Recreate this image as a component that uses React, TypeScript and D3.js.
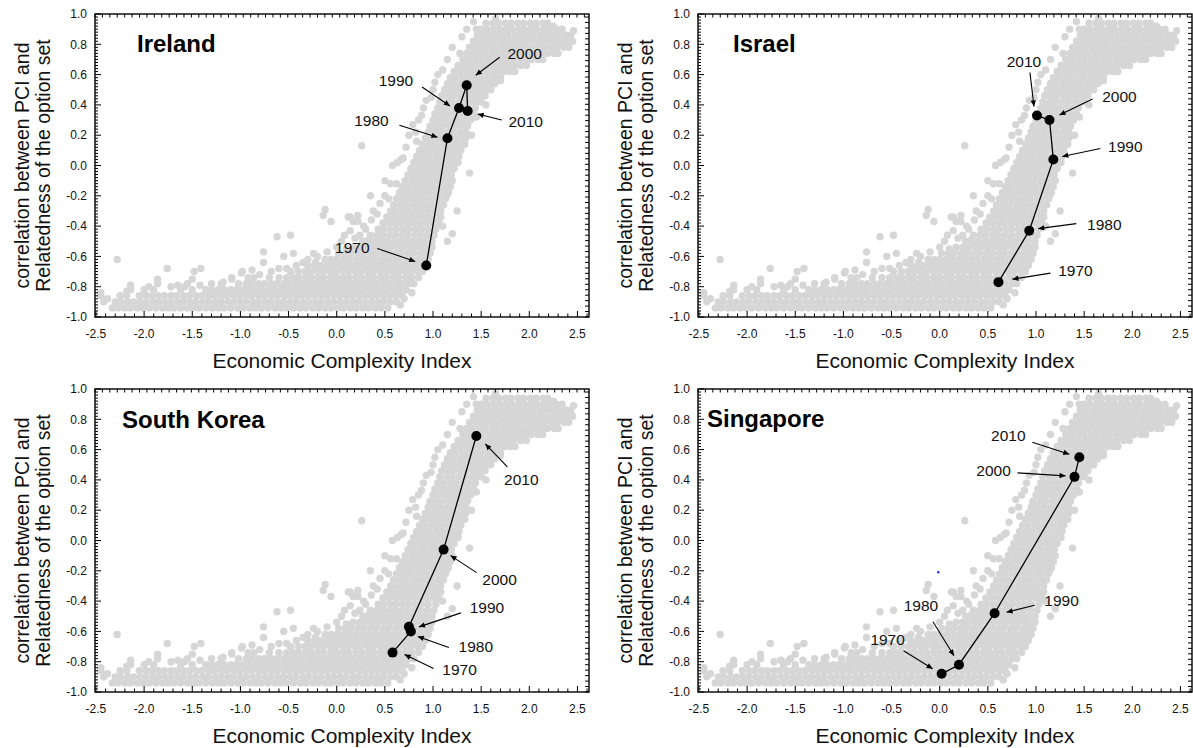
import { useEffect, useRef } from 'react';
import { line, range, scaleLinear, select } from 'd3';

// years on every trajectory
const years = [1970, 1980, 1990, 2000, 2010];

// Economic Complexity Index / correlation, per country, per decade
const irelandEci = [0.93, 1.15, 1.27, 1.35, 1.36];
const irelandCorr = [-0.66, 0.18, 0.38, 0.53, 0.36];

const israelEci = [0.61, 0.93, 1.18, 1.14, 1.01];
const israelCorr = [-0.77, -0.43, 0.04, 0.3, 0.33];

const koreaEci = [0.58, 0.77, 0.75, 1.11, 1.45];
const koreaCorr = [-0.74, -0.6, -0.57, -0.06, 0.69];

const singaporeEci = [0.02, 0.2, 0.57, 1.4, 1.45];
const singaporeCorr = [-0.88, -0.82, -0.48, 0.42, 0.55];

// all country-years: rows of [corr, eci values]
const cloudRows: [number, number[]][] = [
  [-0.94, [-2.33, -2.27, -2.2, -2.14, -2.07, -2.01, -1.95, -1.88, -1.81, -1.75, -1.69, -1.62, -1.55, -1.49, -1.43, -1.36, -1.29, -1.23, -1.17, -1.1, -1.03, -0.97, -0.9, -0.84, -0.78, -0.71, -0.64, -0.58, -0.52, -0.45, -0.38, -0.32, -0.25, -0.19, -0.12, -0.06, 0.01, 0.07, 0.14, 0.2, 0.27, 0.33, 0.4, 0.46, 0.53]],
  [-0.9, [-2.42, -2.3, -2.24, -2.17, -2.11, -2.04, -1.98, -1.91, -1.85, -1.78, -1.72, -1.65, -1.59, -1.52, -1.46, -1.39, -1.33, -1.26, -1.2, -1.13, -1.07, -1.0, -0.94, -0.87, -0.81, -0.74, -0.68, -0.61, -0.55, -0.48, -0.42, -0.35, -0.29, -0.22, -0.16, -0.09, -0.03, 0.04, 0.1, 0.17, 0.23, 0.3, 0.36, 0.43, 0.49, 0.56, 0.62]],
  [-0.86, [-2.45, -2.18, -2.05, -1.98, -1.92, -1.85, -1.79, -1.72, -1.66, -1.59, -1.53, -1.46, -1.4, -1.33, -1.27, -1.2, -1.14, -1.07, -1.01, -0.94, -0.88, -0.81, -0.75, -0.68, -0.62, -0.55, -0.49, -0.42, -0.36, -0.29, -0.23, -0.16, -0.1, -0.03, 0.03, 0.1, 0.16, 0.23, 0.29, 0.36, 0.42, 0.49, 0.55, 0.62, 0.68]],
  [-0.82, [-2.14, -1.9, -1.62, -1.5, -1.36, -1.3, -1.23, -1.17, -1.1, -1.04, -0.97, -0.91, -0.84, -0.78, -0.71, -0.65, -0.58, -0.52, -0.45, -0.39, -0.32, -0.26, -0.19, -0.13, -0.06, 0.0, 0.07, 0.13, 0.2, 0.26, 0.33, 0.39, 0.46, 0.52, 0.59, 0.65, 0.72]],
  [-0.78, [-1.86, -1.55, -1.2, -1.02, -0.94, -0.88, -0.81, -0.75, -0.68, -0.62, -0.55, -0.49, -0.42, -0.36, -0.29, -0.23, -0.16, -0.1, -0.03, 0.03, 0.1, 0.16, 0.23, 0.29, 0.36, 0.42, 0.49, 0.55, 0.62, 0.68, 0.75, 0.8]],
  [-0.74, [-1.09, -0.86, -0.7, -0.6, -0.52, -0.45, -0.39, -0.32, -0.26, -0.19, -0.13, -0.06, 0.0, 0.07, 0.13, 0.2, 0.26, 0.33, 0.39, 0.46, 0.52, 0.59, 0.65, 0.72, 0.78, 0.85]],
  [-0.7, [-0.98, -0.48, -0.4, -0.33, -0.27, -0.2, -0.14, -0.07, -0.01, 0.06, 0.12, 0.19, 0.25, 0.32, 0.38, 0.45, 0.51, 0.58, 0.64, 0.71, 0.77, 0.84, 0.89]],
  [-0.66, [-0.3, -0.23, -0.17, -0.1, -0.04, 0.03, 0.09, 0.16, 0.22, 0.29, 0.35, 0.42, 0.48, 0.55, 0.61, 0.68, 0.74, 0.81, 0.87, 0.92]],
  [-0.62, [-0.12, -0.06, 0.0, 0.07, 0.13, 0.2, 0.26, 0.33, 0.39, 0.46, 0.52, 0.59, 0.65, 0.72, 0.78, 0.85, 0.91, 0.95]],
  [-0.58, [0.02, 0.09, 0.15, 0.22, 0.28, 0.35, 0.41, 0.48, 0.54, 0.61, 0.67, 0.74, 0.8, 0.87, 0.93, 0.97]],
  [-0.54, [0.17, 0.24, 0.3, 0.37, 0.43, 0.5, 0.56, 0.63, 0.69, 0.76, 0.82, 0.89, 0.95, 0.99]],
  [-0.5, [0.27, 0.34, 0.4, 0.47, 0.53, 0.6, 0.66, 0.73, 0.79, 0.86, 0.92, 0.99]],
  [-0.46, [0.35, 0.42, 0.48, 0.55, 0.61, 0.68, 0.74, 0.81, 0.87, 0.94, 1.01]],
  [-0.42, [0.43, 0.49, 0.56, 0.62, 0.69, 0.75, 0.82, 0.88, 0.95, 1.03]],
  [-0.38, [0.48, 0.54, 0.61, 0.67, 0.74, 0.8, 0.87, 0.93, 1.0, 1.06]],
  [-0.34, [0.52, 0.58, 0.65, 0.71, 0.78, 0.84, 0.91, 0.97, 1.04, 1.08]],
  [-0.3, [0.56, 0.62, 0.69, 0.75, 0.82, 0.88, 0.95, 1.01, 1.08]],
  [-0.26, [0.59, 0.66, 0.72, 0.79, 0.85, 0.92, 0.98, 1.05, 1.11]],
  [-0.22, [0.62, 0.68, 0.75, 0.81, 0.88, 0.94, 1.01, 1.07, 1.13]],
  [-0.18, [0.65, 0.72, 0.78, 0.85, 0.91, 0.98, 1.04, 1.11, 1.16]],
  [-0.14, [0.68, 0.74, 0.81, 0.87, 0.94, 1.0, 1.07, 1.13, 1.18]],
  [-0.1, [0.71, 0.78, 0.84, 0.91, 0.97, 1.04, 1.1, 1.17, 1.2]],
  [-0.06, [0.74, 0.8, 0.87, 0.93, 1.0, 1.06, 1.13, 1.19]],
  [-0.02, [0.77, 0.84, 0.9, 0.97, 1.03, 1.1, 1.16, 1.22]],
  [0.02, [0.8, 0.86, 0.93, 0.99, 1.06, 1.12, 1.19, 1.24]],
  [0.06, [0.83, 0.9, 0.96, 1.03, 1.09, 1.16, 1.22, 1.27]],
  [0.1, [0.86, 0.92, 0.99, 1.05, 1.12, 1.18, 1.25, 1.29]],
  [0.14, [0.89, 0.96, 1.02, 1.09, 1.15, 1.22, 1.28, 1.31]],
  [0.18, [0.92, 0.98, 1.05, 1.11, 1.18, 1.24, 1.31, 1.34]],
  [0.22, [0.95, 1.02, 1.08, 1.15, 1.21, 1.28, 1.34]],
  [0.26, [0.97, 1.04, 1.1, 1.17, 1.23, 1.3, 1.36]],
  [0.3, [1.0, 1.06, 1.13, 1.19, 1.26, 1.32, 1.39]],
  [0.34, [1.02, 1.09, 1.15, 1.22, 1.28, 1.35, 1.42]],
  [0.38, [1.05, 1.11, 1.18, 1.24, 1.31, 1.37, 1.44]],
  [0.42, [1.07, 1.14, 1.2, 1.27, 1.33, 1.4, 1.46, 1.5]],
  [0.46, [1.09, 1.16, 1.22, 1.29, 1.35, 1.42, 1.48, 1.54]],
  [0.5, [1.12, 1.18, 1.25, 1.31, 1.38, 1.44, 1.51, 1.57]],
  [0.54, [1.15, 1.21, 1.28, 1.34, 1.41, 1.47, 1.54, 1.6, 1.64]],
  [0.58, [1.18, 1.24, 1.31, 1.37, 1.44, 1.5, 1.57, 1.63, 1.7]],
  [0.62, [1.22, 1.28, 1.35, 1.41, 1.48, 1.54, 1.61, 1.67, 1.74, 1.8, 1.85]],
  [0.66, [1.26, 1.32, 1.39, 1.45, 1.52, 1.58, 1.65, 1.71, 1.78, 1.84, 1.91, 1.97]],
  [0.7, [1.31, 1.37, 1.44, 1.5, 1.57, 1.63, 1.7, 1.76, 1.83, 1.89, 1.96, 2.02, 2.09, 2.14]],
  [0.74, [1.35, 1.41, 1.48, 1.54, 1.61, 1.67, 1.74, 1.8, 1.87, 1.93, 2.0, 2.06, 2.13, 2.19, 2.26, 2.3]],
  [0.78, [1.38, 1.45, 1.51, 1.58, 1.64, 1.71, 1.77, 1.84, 1.9, 1.97, 2.03, 2.1, 2.16, 2.23, 2.29, 2.36, 2.41]],
  [0.82, [1.42, 1.48, 1.55, 1.61, 1.68, 1.74, 1.81, 1.87, 1.94, 2.0, 2.07, 2.13, 2.2, 2.26, 2.33, 2.39, 2.45]],
  [0.86, [1.46, 1.52, 1.59, 1.65, 1.72, 1.78, 1.85, 1.91, 1.98, 2.04, 2.11, 2.17, 2.24, 2.3, 2.37, 2.43]],
  [0.9, [1.5, 1.56, 1.63, 1.69, 1.76, 1.82, 1.89, 1.95, 2.02, 2.08, 2.15, 2.21, 2.28, 2.34]],
  [0.94, [1.55, 1.62, 1.68, 1.75, 1.81, 1.88, 1.94, 2.01, 2.07, 2.14, 2.19]],
];

// scattered country-years around the dense band: [eci, corr]
const cloudStray: [number, number][] = [
  [-2.45, -0.84], [-2.28, -0.62], [-2.18, -0.83], [-2.14, -0.79], [-2.0, -0.82],
  [-1.86, -0.75], [-1.76, -0.68], [-1.72, -0.8], [-1.5, -0.75], [-1.48, -0.7],
  [-1.41, -0.68], [-1.3, -0.78], [-1.09, -0.75], [-0.99, -0.71], [-0.88, -0.69],
  [-0.76, -0.64], [-0.76, -0.57], [-0.62, -0.47], [-0.6, -0.68], [-0.55, -0.6],
  [-0.48, -0.46], [-0.45, -0.58], [-0.3, -0.62], [-0.24, -0.58], [-0.2, -0.6],
  [-0.14, -0.33], [-0.12, -0.29], [-0.06, -0.37], [0.05, -0.5], [0.1, -0.55],
  [0.14, -0.43], [0.14, -0.34], [0.17, -0.37], [0.19, -0.48], [0.22, -0.33],
  [0.22, -0.37], [0.3, -0.42], [0.33, -0.49], [0.35, -0.2], [0.38, -0.3],
  [0.45, -0.25], [0.5, -0.1], [0.54, -0.22], [0.58, 0.0], [0.62, -0.12],
  [0.26, 0.13], [0.69, 0.05], [0.69, -0.17], [0.75, 0.2], [0.83, 0.16],
  [0.85, 0.3], [0.9, 0.38], [0.97, 0.25], [1.0, 0.5], [1.05, 0.6],
  [1.15, 0.7], [1.28, 0.74], [1.3, 0.85], [1.42, 0.95], [1.45, 0.9],
  [1.33, 0.14], [1.4, 0.2], [1.38, -0.05], [1.25, -0.3], [1.2, -0.45],
  [1.15, -0.5], [1.55, 0.4], [1.6, 0.5], [1.7, 0.56], [1.83, 0.76],
  [2.29, 0.83], [2.39, 0.86], [2.46, 0.89], [1.65, 0.97], [2.25, 0.92],
  [-2.38, -0.88], [-2.25, -0.86], [-1.95, -0.8], [-1.65, -0.79], [-1.58, -0.8],
  [-1.42, -0.79], [-1.18, -0.77], [-0.92, -0.74], [-0.8, -0.72], [-0.68, -0.7],
  [-0.52, -0.68], [-0.42, -0.66], [-0.35, -0.64], [-0.22, -0.64], [-0.1, -0.57],
  [0.0, -0.54], [0.08, -0.46], [0.24, -0.46], [0.28, -0.4], [0.36, -0.36],
  [0.42, -0.32], [0.5, -0.2], [0.56, -0.12], [0.63, 0.02], [0.72, 0.12],
  [0.79, 0.27], [0.82, 0.22], [0.88, 0.33], [0.93, 0.43], [0.98, 0.45],
  [1.02, 0.55], [1.1, 0.63], [1.2, 0.78], [1.35, 0.9], [1.1, -0.4],
  [1.14, -0.2], [1.26, 0.02], [1.32, 0.28], [1.45, 0.32], [1.5, 0.5],
  [1.62, 0.6], [1.75, 0.66], [1.95, 0.72], [2.1, 0.76], [2.35, 0.82],
  [0.66, -0.92], [0.7, -0.88], [0.78, -0.84], [0.12, -0.34], [0.67, 0.04],
];

// a stray blue dot in the Singapore panel: [eci, corr]
const blueMark: [number, number][] = [[-0.015, -0.21]];

// year annotations, pixel offsets from each point:
// [label dx, label dy, arrow tail dx, tail dy, tip dx, tip dy]
type Note = [number, number, number, number, number, number];

const irelandNotes: Note[] = [
  [-74, -18, -49, -17, -11, -4],
  [-76, -18, -48, -13, -10, -1],
  [-63, -28, -37, -21, -9, -2],
  [58, -32, 33, -28, 9, -10],
  [58, 10, 34, 9, 10, 3],
];
const israelNotes: Note[] = [
  [77, -12, 52, -9, 14, -3],
  [75, -6, 47, -7, 9, -2],
  [72, -13, 47, -11, 9, -3],
  [70, -24, 43, -21, 10, -5],
  [-13, -54, -7, -43, -3, -9],
];
const koreaNotes: Note[] = [
  [67, 17, 41, 16, 12, 2],
  [65, 15, 38, 16, 7, 5],
  [78, -19, 52, -14, 10, 0],
  [56, 30, 33, 23, 7, 6],
  [45, 43, 31, 31, 9, 8],
];
const singaporeNotes: Note[] = [
  [-54, -34, -38, -23, -9, -5],
  [-38, -59, -26, -43, -5, -9],
  [67, -13, 40, -8, 12, -1],
  [-81, -6, -57, -4, -9, -1],
  [-71, -22, -47, -15, -10, -3],
];

const FONT = '"Liberation Sans", Arial, Helvetica, sans-serif';

type Panel = {
  name: string;
  eci: number[];
  corr: number[];
  notes: Note[];
  ox: number;
  oy: number;
  titleX: number;
  titleY: number;
  blue?: boolean;
};

const panels: Panel[] = [
  { name: 'Ireland', eci: irelandEci, corr: irelandCorr, notes: irelandNotes, ox: 0, oy: 0, titleX: 137, titleY: 52 },
  { name: 'Israel', eci: israelEci, corr: israelCorr, notes: israelNotes, ox: 603, oy: 0, titleX: 130, titleY: 52 },
  { name: 'South Korea', eci: koreaEci, corr: koreaCorr, notes: koreaNotes, ox: 0, oy: 375, titleX: 122, titleY: 53 },
  { name: 'Singapore', eci: singaporeEci, corr: singaporeCorr, notes: singaporeNotes, ox: 603, oy: 375, titleX: 104, titleY: 52, blue: true },
];

export default function App() {
  const containerRef = useRef<HTMLDivElement>(null);

  useEffect(() => {
    const container = containerRef.current;
    if (!container) return;

    const div = select(container);
    div.select('svg').remove();

    const svg = div
      .append('svg')
      .attr('width', 1193)
      .attr('height', 748)
      .style('display', 'block')
      .attr('font-family', FONT);

    svg.append('rect').attr('width', 1193).attr('height', 748).attr('fill', '#fff');

    svg
      .append('defs')
      .append('marker')
      .attr('id', 'arrow')
      .attr('viewBox', '0 0 10 10')
      .attr('refX', 10)
      .attr('refY', 5)
      .attr('markerUnits', 'userSpaceOnUse')
      .attr('markerWidth', 8)
      .attr('markerHeight', 6)
      .attr('orient', 'auto')
      .append('path')
      .attr('d', 'M0,0.5L10,5L0,9.5z')
      .attr('fill', '#000');

    const cloud: [number, number][] = [];
    cloudRows.forEach(([c, xs]) => xs.forEach((e) => cloud.push([e, c])));
    cloudStray.forEach((d) => cloud.push(d));

    const fmt = (v: number) => v.toFixed(1);

    panels.forEach((p) => {
      const g = svg.append('g').attr('transform', `translate(${p.ox},${p.oy})`);

      const x = scaleLinear().domain([-2.51, 2.62]).range([95, 589]);
      const y = scaleLinear().domain([-1, 1]).range([317, 14]);

      // cloud of all countries
      g.append('g')
        .selectAll('circle')
        .data(cloud)
        .join('circle')
        .attr('cx', (d) => x(d[0]))
        .attr('cy', (d) => y(d[1]))
        .attr('r', 3.7)
        .attr('fill', '#d6d6d6');

      if (p.blue) {
        g.append('g')
          .selectAll('circle')
          .data(blueMark)
          .join('circle')
          .attr('cx', (d) => x(d[0]))
          .attr('cy', (d) => y(d[1]))
          .attr('r', 1.2)
          .attr('fill', '#2233ff');
      }

      // ticks
      const ticks = g.append('g').attr('stroke', '#000').attr('stroke-width', 1);
      range(-25, 27).forEach((i) => {
        const len = i % 5 === 0 ? 6 : 3.5;
        ticks.append('line').attr('x1', x(i / 10)).attr('x2', x(i / 10)).attr('y1', y(-1)).attr('y2', y(-1) - len);
      });
      range(0, 67).forEach((i) => {
        const v = -2.51 + i * 0.077;
        ticks.append('line').attr('x1', x(v)).attr('x2', x(v)).attr('y1', y(1)).attr('y2', y(1) + 3.5);
      });
      range(-50, 51).forEach((i) => {
        const len = i % 10 === 0 ? 6 : 3;
        ticks.append('line').attr('x1', x(-2.51)).attr('x2', x(-2.51) + len).attr('y1', y(i / 50)).attr('y2', y(i / 50));
      });
      range(0, 56).forEach((i) => {
        const v = -1 + i * 0.036;
        ticks.append('line').attr('x1', x(2.62)).attr('x2', x(2.62) - 4).attr('y1', y(v)).attr('y2', y(v));
      });

      g.append('rect')
        .attr('x', x(-2.51))
        .attr('y', y(1))
        .attr('width', x(2.62) - x(-2.51))
        .attr('height', y(-1) - y(1))
        .attr('fill', 'none')
        .attr('stroke', '#000')
        .attr('stroke-width', 1.4);

      // tick labels
      g.append('g')
        .selectAll('text')
        .data(range(-5, 6).map((i) => i / 2))
        .join('text')
        .attr('x', (d) => x(d))
        .attr('y', 338)
        .attr('text-anchor', 'middle')
        .attr('font-size', 12)
        .attr('fill', '#111')
        .text(fmt);
      g.append('g')
        .selectAll('text')
        .data(range(-5, 6).map((i) => i / 5))
        .join('text')
        .attr('x', 87)
        .attr('y', (d) => y(d))
        .attr('dy', '0.35em')
        .attr('text-anchor', 'end')
        .attr('font-size', 12)
        .attr('fill', '#111')
        .text(fmt);

      // axis titles
      g.append('text')
        .attr('x', (x(-2.51) + x(2.62)) / 2)
        .attr('y', 368)
        .attr('text-anchor', 'middle')
        .attr('font-size', 21)
        .attr('fill', '#111')
        .text('Economic Complexity Index');
      const yc = (y(1) + y(-1)) / 2;
      g.append('text')
        .attr('transform', `translate(29,${yc}) rotate(-90)`)
        .attr('text-anchor', 'middle')
        .attr('font-size', 19.5)
        .attr('fill', '#111')
        .text('correlation between PCI and');
      g.append('text')
        .attr('transform', `translate(50,${yc}) rotate(-90)`)
        .attr('text-anchor', 'middle')
        .attr('font-size', 19.5)
        .attr('fill', '#111')
        .text('Relatedness of the option set');

      // trajectory
      const pts: [number, number][] = p.eci.map((e, i) => [x(e), y(p.corr[i])]);
      g.append('path')
        .attr('d', line()(pts))
        .attr('fill', 'none')
        .attr('stroke', '#000')
        .attr('stroke-width', 1.3);
      g.append('g')
        .selectAll('circle')
        .data(pts)
        .join('circle')
        .attr('cx', (d) => d[0])
        .attr('cy', (d) => d[1])
        .attr('r', 5)
        .attr('fill', '#000');

      // year annotations
      const notes = g.append('g');
      p.notes.forEach((n, i) => {
        const [px, py] = pts[i];
        notes
          .append('line')
          .attr('x1', px + n[2])
          .attr('y1', py + n[3])
          .attr('x2', px + n[4])
          .attr('y2', py + n[5])
          .attr('stroke', '#000')
          .attr('stroke-width', 1.1)
          .attr('marker-end', 'url(#arrow)');
        notes
          .append('text')
          .attr('x', px + n[0])
          .attr('y', py + n[1])
          .attr('dy', '0.36em')
          .attr('text-anchor', 'middle')
          .attr('font-size', 15.5)
          .attr('fill', '#111')
          .text(years[i]);
      });

      g.append('text')
        .attr('x', p.titleX)
        .attr('y', p.titleY)
        .attr('font-size', 24)
        .attr('font-weight', 'bold')
        .attr('fill', '#000')
        .text(p.name);
    });

    return () => {
      div.select('svg').remove();
    };
  }, []);

  return <div ref={containerRef} style={{ position: 'absolute', left: 0, top: 0 }} />;
}
